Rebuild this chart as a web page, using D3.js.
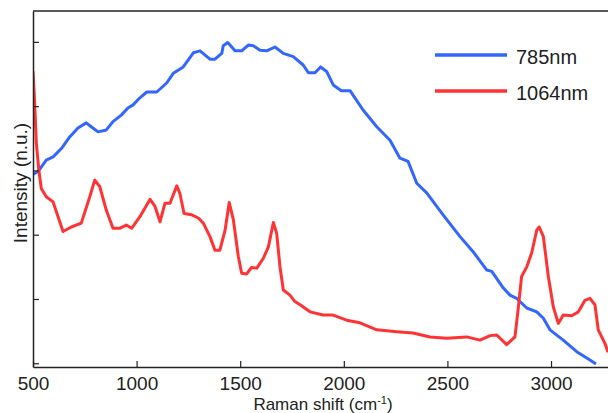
<!DOCTYPE html>
<html>
<head>
<meta charset="utf-8">
<script src="https://cdn.jsdelivr.net/npm/d3@7"></script>
<style>
  body { margin: 0; background: #fff; }
  text { font-family: "Liberation Sans", Arial, sans-serif; fill: #222; }
</style>
</head>
<body>
<div id="chart"></div>
<script>
// Raman shift (cm-1) and intensity (n.u.)
var shift785 = [500, 524, 564, 597, 637, 677, 717, 757, 781, 814, 854, 886, 926, 958, 983, 1016, 1049, 1097, 1145, 1177,
  1225, 1274, 1306, 1354, 1378, 1411, 1418, 1440, 1475, 1507, 1539, 1563, 1596, 1628, 1668, 1708, 1756, 1804, 1829, 1861,
  1888, 1917, 1949, 1988, 2030, 2093, 2159, 2223, 2271, 2310, 2352, 2400, 2479, 2561, 2623, 2690, 2714, 2770, 2802, 2834,
  2883, 2931, 2963, 2995, 3059, 3124, 3188, 3217];
var int785 = [2.94, 2.98, 3.16, 3.21, 3.34, 3.52, 3.66, 3.74, 3.68, 3.60, 3.63, 3.76, 3.86, 3.97, 4.02, 4.13, 4.22, 4.22, 4.36, 4.51,
  4.61, 4.83, 4.86, 4.73, 4.73, 4.82, 4.94, 4.99, 4.86, 4.86, 4.95, 4.94, 4.87, 4.86, 4.92, 4.82, 4.77, 4.64, 4.52, 4.52,
  4.61, 4.54, 4.33, 4.24, 4.24, 3.94, 3.68, 3.47, 3.19, 3.14, 2.80, 2.65, 2.31, 1.97, 1.74, 1.45, 1.43, 1.17, 1.06, 1.01,
  0.86, 0.80, 0.70, 0.52, 0.36, 0.18, 0.05, -0.01];

var shift1064 = [500, 508, 516, 528, 540, 564, 597, 621, 645, 685, 733, 774, 798, 822, 854, 886, 918, 950, 976, 1016,
  1065, 1089, 1113, 1137, 1161, 1194, 1209, 1229, 1266, 1298, 1322, 1354, 1378, 1402, 1427, 1447, 1467, 1491, 1507, 1531,
  1555, 1580, 1611, 1636, 1660, 1676, 1692, 1708, 1740, 1764, 1789, 1837, 1900, 1948, 2014, 2078, 2159, 2255, 2334, 2416,
  2497, 2593, 2657, 2706, 2738, 2786, 2826, 2841, 2858, 2883, 2907, 2931, 2943, 2963, 2987, 3011, 3035, 3059, 3100, 3132,
  3164, 3188, 3212, 3228, 3260, 3275];
var int1064 = [4.54, 4.05, 3.43, 3.01, 2.72, 2.59, 2.51, 2.28, 2.05, 2.12, 2.18, 2.59, 2.85, 2.75, 2.38, 2.10, 2.10, 2.15, 2.10, 2.28,
  2.55, 2.44, 2.20, 2.49, 2.49, 2.76, 2.64, 2.33, 2.31, 2.26, 2.18, 1.97, 1.76, 1.76, 2.07, 2.50, 2.23, 1.66, 1.40, 1.39,
  1.49, 1.48, 1.63, 1.81, 2.19, 2.02, 1.50, 1.14, 1.06, 0.96, 0.91, 0.80, 0.75, 0.75, 0.67, 0.63, 0.52, 0.49, 0.47, 0.41,
  0.39, 0.41, 0.36, 0.43, 0.44, 0.29, 0.41, 0.83, 1.35, 1.50, 1.72, 2.07, 2.12, 1.97, 1.35, 0.88, 0.62, 0.75, 0.74, 0.80,
  0.98, 1.01, 0.91, 0.52, 0.31, 0.17];

var xTicks = [500, 1000, 1500, 2000, 2500, 3000];
var yTicks = [0, 1, 2, 3, 4, 5];
var seriesNames = ["785nm", "1064nm"];
var seriesColors = ["#3366ff", "#ff3333"];

var width = 608, height = 413;
var margin = { top: 11, right: 0, bottom: 46, left: 33 };

var svg = d3.select("#chart")
  .append("svg")
  .attr("width", width)
  .attr("height", height);

// Scales
var x = d3.scaleLinear()
  .domain([500, 3275])
  .range([margin.left, width - margin.right]);

var y = d3.scaleLinear()
  .domain([-0.058, 5.48])
  .range([height - margin.bottom, margin.top]);

// Clip the spectra to the axes box
svg.append("clipPath")
  .attr("id", "plotclip")
  .append("rect")
  .attr("x", margin.left)
  .attr("y", margin.top)
  .attr("width", width - margin.left)
  .attr("height", height - margin.bottom - margin.top);

// Spectra
var line = d3.line()
  .x(function(d) { return x(d[0]); })
  .y(function(d) { return y(d[1]); });

var series = [d3.zip(shift785, int785), d3.zip(shift1064, int1064)];

svg.append("g")
  .attr("clip-path", "url(#plotclip)")
  .selectAll("path")
  .data(series)
  .enter()
  .append("path")
  .attr("d", line)
  .attr("fill", "none")
  .attr("stroke", function(d, i) { return seriesColors[i]; })
  .attr("stroke-width", 3)
  .attr("stroke-linejoin", "round");

// Axes (ticks point inward, no y labels)
var xAxis = svg.append("g")
  .attr("transform", "translate(0," + (height - margin.bottom) + ")")
  .call(d3.axisBottom(x).tickValues(xTicks).tickSizeInner(-6).tickSizeOuter(0).tickFormat(d3.format("d")));

var yAxis = svg.append("g")
  .attr("transform", "translate(" + margin.left + ",0)")
  .call(d3.axisLeft(y).tickValues(yTicks).tickSizeInner(-6).tickSizeOuter(0).tickFormat(""));

xAxis.select(".domain").attr("stroke", "#222").attr("stroke-width", 1.5);
yAxis.select(".domain").attr("stroke", "#222").attr("stroke-width", 1.5);
xAxis.selectAll(".tick line").attr("stroke", "#222").attr("stroke-width", 1.2);
yAxis.selectAll(".tick line").attr("stroke", "#222").attr("stroke-width", 1.2);
xAxis.selectAll(".tick text")
  .attr("font-size", 19)
  .attr("font-family", "Liberation Sans, Arial, sans-serif")
  .attr("fill", "#222")
  .attr("dy", null)
  .attr("y", 23);

// Top border of the box
svg.append("line")
  .attr("x1", margin.left)
  .attr("x2", width)
  .attr("y1", margin.top)
  .attr("y2", margin.top)
  .attr("stroke", "#222")
  .attr("stroke-width", 1.5);

// Axis labels
var xLabel = svg.append("text")
  .attr("x", 323)
  .attr("y", 410)
  .attr("text-anchor", "middle")
  .attr("font-size", 17);
xLabel.append("tspan").text("Raman shift (cm");
xLabel.append("tspan").attr("font-size", 11).attr("dy", -6).text("-1");
xLabel.append("tspan").attr("dy", 6).text(")");

svg.append("text")
  .attr("transform", "translate(27,183) rotate(-90)")
  .attr("text-anchor", "middle")
  .attr("font-size", 19)
  .text("Intensity (n.u.)");

// Legend
var legend = svg.append("g")
  .selectAll("g")
  .data(seriesNames)
  .enter()
  .append("g")
  .attr("transform", function(d, i) { return "translate(0," + (55 + i * 36) + ")"; });

legend.append("line")
  .attr("x1", 435)
  .attr("x2", 507)
  .attr("stroke", function(d, i) { return seriesColors[i]; })
  .attr("stroke-width", 3.5);

legend.append("text")
  .attr("x", 516)
  .attr("y", 9)
  .attr("font-size", 20)
  .text(function(d) { return d; });
</script>
</body>
</html>
